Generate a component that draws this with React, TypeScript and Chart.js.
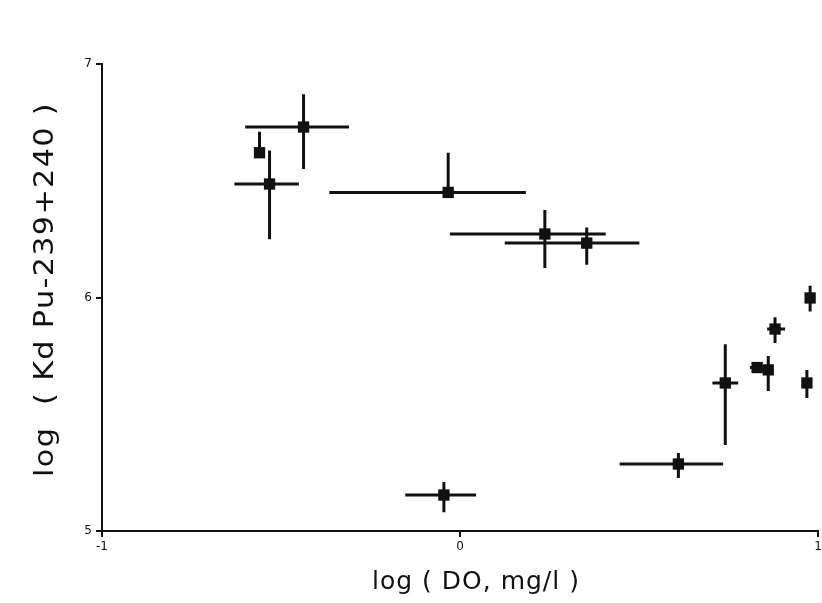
import React, { useEffect, useRef } from "react";
import { Chart, registerables } from "chart.js";

Chart.register(...registerables);

// log(DO, mg/l)
const xValues = [-0.56, -0.437, -0.532, -0.033, 0.237, 0.354, -0.045, 0.61, 0.741, 0.83, 0.861, 0.88, 0.969, 0.978];
// log(Kd Pu-239+240)
const yValues = [6.62, 6.73, 6.486, 6.45, 6.272, 6.233, 5.154, 5.287, 5.634, 5.7, 5.69, 5.865, 5.634, 5.998];
// error bar limits
const xLow = [-0.56, -0.6, -0.63, -0.365, -0.028, 0.125, -0.153, 0.446, 0.705, 0.81, 0.845, 0.858, 0.96, 0.97];
const xHigh = [-0.56, -0.31, -0.45, 0.184, 0.407, 0.501, 0.045, 0.735, 0.777, 0.85, 0.875, 0.908, 0.98, 0.985];
const yLow = [6.62, 6.55, 6.25, 6.45, 6.126, 6.14, 5.08, 5.227, 5.368, 5.68, 5.6, 5.805, 5.57, 5.94];
const yHigh = [6.71, 6.87, 6.63, 6.62, 6.375, 6.3, 5.21, 5.334, 5.8, 5.72, 5.75, 5.915, 5.69, 6.05];

const xTicks = [-1, 0, 1];
const yTicks = [5, 6, 7];

const xTitle = "log ( DO, mg/l )";
const yTitle = "log  ( Kd Pu-239+240 )";

const errorBarPlugin = {
  id: "errorBars",
  beforeDatasetsDraw(chart: any) {
    const { ctx, scales } = chart;
    const xs = scales.x;
    const ys = scales.y;
    ctx.save();
    ctx.strokeStyle = "#111";
    ctx.lineWidth = 3;
    for (let i = 0; i < xValues.length; i++) {
      const py = ys.getPixelForValue(yValues[i]);
      const px = xs.getPixelForValue(xValues[i]);
      ctx.beginPath();
      ctx.moveTo(xs.getPixelForValue(xLow[i]), py);
      ctx.lineTo(xs.getPixelForValue(xHigh[i]), py);
      ctx.moveTo(px, ys.getPixelForValue(yLow[i]));
      ctx.lineTo(px, ys.getPixelForValue(yHigh[i]));
      ctx.stroke();
    }
    ctx.restore();
  },
};

const titlePlugin = {
  id: "axisTitles",
  afterDraw(chart: any) {
    const { ctx, chartArea } = chart;
    ctx.save();
    ctx.fillStyle = "#111";
    ctx.textAlign = "center";
    ctx.textBaseline = "middle";
    // x title
    ctx.font = "25px 'DejaVu Sans'";
    (ctx as any).letterSpacing = "1px";
    ctx.fillText(xTitle, (chartArea.left + chartArea.right) / 2 + 16, 582);
    // y title
    ctx.save();
    ctx.translate(46, (chartArea.top + chartArea.bottom) / 2 - 8);
    ctx.rotate(-Math.PI / 2);
    ctx.scale(1.12, 1);
    ctx.font = "27px 'DejaVu Sans'";
    (ctx as any).letterSpacing = "1.2px";
    ctx.fillText(yTitle, 0, 0);
    ctx.restore();
    ctx.restore();
  },
};

export default function App() {
  const ref = useRef<HTMLCanvasElement | null>(null);
  useEffect(() => {
    if (!ref.current) return;
    const chart = new Chart(ref.current, {
      type: "scatter",
      data: {
        datasets: [
          {
            data: xValues.map((x, i) => ({ x, y: yValues[i] })),
            pointStyle: "rect",
            pointRadius: 8,
            backgroundColor: "#111",
            borderColor: "#111",
            borderWidth: 0,
            clip: false as any,
          },
        ],
      },
      options: {
        animation: false,
        responsive: false,
        layout: { padding: { top: 64, right: 0, left: 0, bottom: 0 } },
        plugins: { legend: { display: false }, tooltip: { enabled: false } },
        scales: {
          x: {
            type: "linear",
            min: -1,
            max: 1,
            afterFit: (s: any) => {
              s.height = 72;
            },
            afterBuildTicks: (s: any) => {
              s.ticks = xTicks.map((v) => ({ value: v }));
            },
            ticks: {
              color: "#111",
              padding: 3,
              font: { family: "DejaVu Sans", size: 12 },
              callback: (v: any) => (v === -1 ? "-1" : String(v)),
            },
            grid: { drawOnChartArea: false, drawTicks: true, tickLength: 6, color: "#111", lineWidth: 2 },
            border: { display: true, color: "#111", width: 2 },
          },
          y: {
            type: "linear",
            min: 5,
            max: 7,
            afterFit: (s: any) => {
              s.width = 102;
            },
            afterBuildTicks: (s: any) => {
              s.ticks = yTicks.map((v) => ({ value: v }));
            },
            ticks: {
              color: "#111",
              padding: 4,
              font: { family: "DejaVu Sans", size: 12 },
            },
            grid: { drawOnChartArea: false, drawTicks: true, tickLength: 6, color: "#111", lineWidth: 2 },
            border: { display: true, color: "#111", width: 2 },
          },
        },
      },
      plugins: [errorBarPlugin, titlePlugin],
    });
    return () => chart.destroy();
  }, []);
  return (
    <div style={{ position: "absolute", left: 0, top: 0, width: 822, height: 603, overflow: "hidden", background: "#fff" }}>
      <canvas ref={ref} width={826} height={603} style={{ display: "block" }} />
    </div>
  );
}
